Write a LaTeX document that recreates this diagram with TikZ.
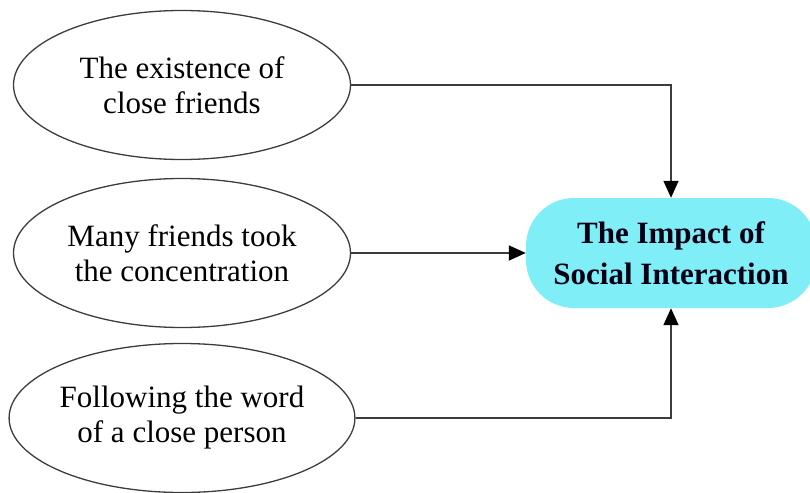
\documentclass[tikz,border=0pt]{standalone}
\usepackage{fontspec}
\setmainfont{Liberation Serif}
\usetikzlibrary{shapes.geometric,arrows.meta}

\definecolor{boxcyan}{RGB}{128,238,246}
\definecolor{linegray}{RGB}{60,60,60}

\begin{document}
\begin{tikzpicture}[x=1pt,y=-1pt,
                factor/.style={ellipse,draw=linegray,line width=1.3pt,
                    minimum width=337pt,minimum height=149pt,inner sep=0pt,
                    align=center,font=\fontsize{31}{35}\selectfont},
                impact/.style={rectangle,rounded corners=48pt,fill=boxcyan,
                    minimum width=290pt,minimum height=110pt,align=center,
                    text=black!92!blue,font=\fontsize{31}{41}\selectfont\bfseries},
                link/.style={draw=linegray,line width=1.6pt,
                    -{Triangle[length=17pt,width=15pt,color=black,fill=black]}}]
                \useasboundingbox (0,0) rectangle (810,492);
                \begin{scope}
                \clip (0,0) rectangle (810,492);
                \node[factor] (friends) at (182,85) {The existence of\\close friends};
                \node[factor] (focus) at (182,253) {Many friends took\\the concentration};
                \node[factor] (follow) at (182,418) {Following the word\\of a close person};
                \node[impact] (social) at (671,253) {The Impact of\\Social Interaction};
                \end{scope}
                \draw[link] (friends.east) -| (social.north);
                \draw[link] (focus.east) -- (social.west);
                \draw[link] (follow.east) -| (social.south);
            \end{tikzpicture}
\end{document}
